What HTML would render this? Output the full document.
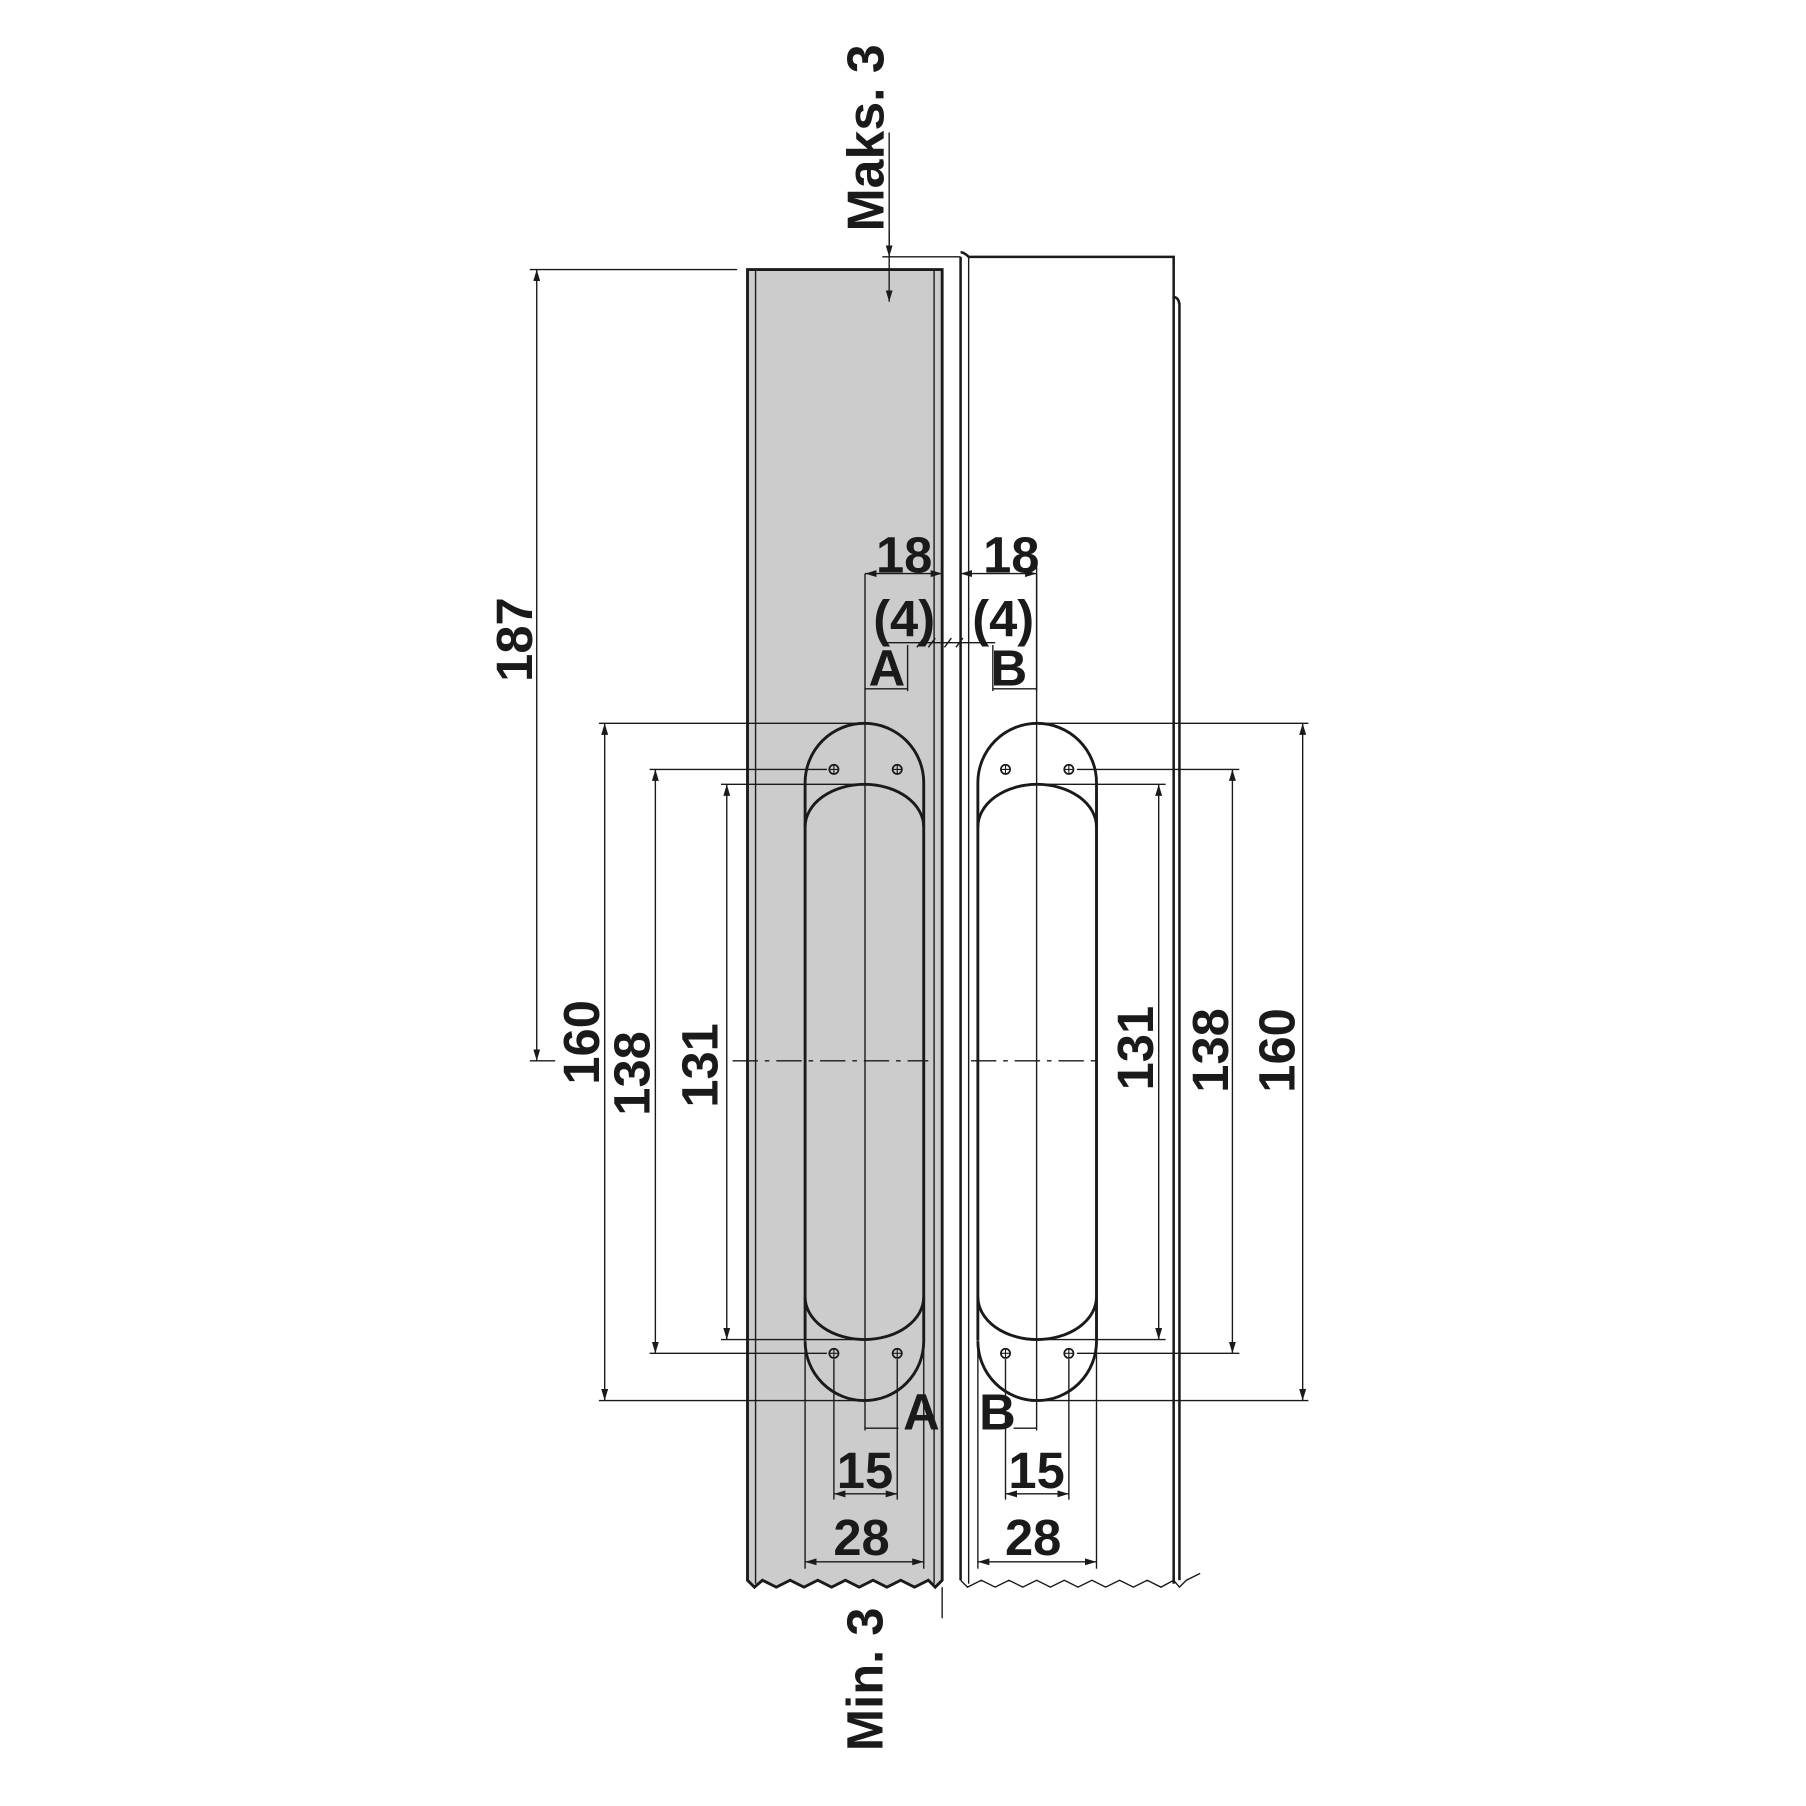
<!DOCTYPE html>
<html><head><meta charset="utf-8"><style>html,body{margin:0;padding:0;background:#fff}svg{display:block}</style></head><body>
<svg width="1806" height="1806" viewBox="0 0 1568 1568" xmlns="http://www.w3.org/2000/svg" font-family="Liberation Sans, sans-serif" font-weight="bold" fill="none" stroke="#1a1a1a">
<defs>
<marker id="ar" viewBox="0 0 10 6" refX="10" refY="3" markerWidth="10" markerHeight="6" orient="auto-start-reverse" markerUnits="userSpaceOnUse"><path d="M0,0 L10,3 L0,6 z" fill="#1a1a1a" stroke="none"/></marker>
</defs>
<path d="M649,234 H818 V1372 L812,1378 L806,1372 L794,1378 L782,1372 L770,1378 L758,1372 L746,1378 L734,1372 L722,1378 L710,1372 L698,1378 L686,1372 L674,1378 L662,1372 L655,1378 L649,1372 Z" fill="#cccccc" stroke="#1a1a1a" stroke-width="2.5"/>
<line x1="656" y1="234" x2="656" y2="1375" stroke-width="1.2"/>
<line x1="811" y1="234" x2="811" y2="1375" stroke-width="1.2"/>
<line x1="818" y1="1378" x2="818" y2="1405" stroke-width="1.2"/>
<path d="M834,1372 V223 M834,219 q3,0 7,4 H1019 V258 q4,0 5,6 V1372" stroke-width="2.2"/>
<line x1="841" y1="223" x2="841" y2="1375" stroke-width="1.2"/>
<line x1="1019" y1="258" x2="1019" y2="1375" stroke-width="2.2"/>
<path d="M834,1372 L840,1378 L852,1372 L864,1378 L876,1372 L888,1378 L900,1372 L912,1378 L924,1372 L936,1378 L948,1372 L960,1378 L972,1372 L984,1378 L996,1372 L1008,1378 L1019,1372 L1024,1378 L1030,1372 L1042,1366" stroke-width="1.2"/>
<line x1="772" y1="115" x2="772" y2="262" stroke-width="1.2" marker-end="url(#ar)"/>
<line x1="772" y1="200" x2="772" y2="223" stroke-width="1.2" marker-end="url(#ar)"/>
<line x1="766" y1="223" x2="834" y2="223" stroke-width="1.2"/>
<text transform="translate(767,201) rotate(-90)" font-size="45" fill="#1a1a1a" stroke="none">Maks. 3</text>
<line x1="460" y1="234" x2="640" y2="234" stroke-width="1.2"/>
<line x1="460" y1="921" x2="482" y2="921" stroke-width="1.2"/>
<line x1="466" y1="234" x2="466" y2="921" stroke-width="1.2" marker-start="url(#ar)" marker-end="url(#ar)"/>
<text transform="translate(462,592) rotate(-90)" font-size="44" fill="#1a1a1a" stroke="none">187</text>
<line x1="636" y1="921" x2="806" y2="921" stroke-width="1.2" stroke-dasharray="22,6,4,6"/>
<line x1="843" y1="921" x2="956" y2="921" stroke-width="1.2" stroke-dasharray="22,6,4,6"/>
<path d="M699,1164 V679.5 A51.5,51.5 0 0 1 802,679.5 V1164.5 A51.5,51.5 0 0 1 699,1164.5" stroke-width="2.5"/>
<path d="M699,718 A51.5,37 0 0 1 802,718 M699,1126 A51.5,37 0 0 0 802,1126" stroke-width="2.5"/>
<line x1="751" y1="498" x2="751" y2="1242" stroke-width="1.2"/>
<path d="M849,1164 V679.5 A51.5,51.5 0 0 1 952,679.5 V1164.5 A51.5,51.5 0 0 1 849,1164.5" stroke-width="2.5"/>
<path d="M849,718 A51.5,37 0 0 1 952,718 M849,1126 A51.5,37 0 0 0 952,1126" stroke-width="2.5"/>
<line x1="900" y1="498" x2="900" y2="1242" stroke-width="1.2"/>
<g stroke-width="1.5">
<circle cx="724" cy="668" r="4"/><circle cx="779" cy="668" r="4"/><circle cx="724" cy="1175" r="4"/><circle cx="779" cy="1175" r="4"/>
<circle cx="873" cy="668" r="4"/><circle cx="928" cy="668" r="4"/><circle cx="873" cy="1175" r="4"/><circle cx="928" cy="1175" r="4"/>
<path d="M720,668h8M724,664v8M775,668h8M779,664v8M720,1175h8M724,1171v8M775,1175h8M779,1171v8M869,668h8M873,664v8M924,668h8M928,664v8M869,1175h8M873,1171v8M924,1175h8M928,1171v8" stroke-width="1"/>
</g>
<g stroke-width="1.2">
<line x1="520" y1="628" x2="751" y2="628"/><line x1="520" y1="1216" x2="751" y2="1216"/>
<line x1="525" y1="628" x2="525" y2="1216" marker-start="url(#ar)" marker-end="url(#ar)"/>
<line x1="564" y1="668" x2="718" y2="668"/><line x1="564" y1="1175" x2="718" y2="1175"/>
<line x1="569" y1="668" x2="569" y2="1175" marker-start="url(#ar)" marker-end="url(#ar)"/>
<line x1="626" y1="681" x2="751" y2="681"/><line x1="626" y1="1163" x2="751" y2="1163"/>
<line x1="631" y1="681" x2="631" y2="1163" marker-start="url(#ar)" marker-end="url(#ar)"/>
<line x1="900" y1="628" x2="1136" y2="628"/><line x1="900" y1="1216" x2="1136" y2="1216"/>
<line x1="1131" y1="628" x2="1131" y2="1216" marker-start="url(#ar)" marker-end="url(#ar)"/>
<line x1="935" y1="668" x2="1076" y2="668"/><line x1="935" y1="1175" x2="1076" y2="1175"/>
<line x1="1070" y1="668" x2="1070" y2="1175" marker-start="url(#ar)" marker-end="url(#ar)"/>
<line x1="900" y1="681" x2="1012" y2="681"/><line x1="900" y1="1163" x2="1012" y2="1163"/>
<line x1="1006" y1="681" x2="1006" y2="1163" marker-start="url(#ar)" marker-end="url(#ar)"/>
<line x1="751" y1="498" x2="818" y2="498" marker-start="url(#ar)" marker-end="url(#ar)"/>
<line x1="818" y1="498" x2="818" y2="510"/>
<line x1="834" y1="498" x2="900" y2="498" marker-start="url(#ar)" marker-end="url(#ar)"/>
<line x1="900" y1="490" x2="900" y2="600"/>
<line x1="770" y1="558" x2="864" y2="558"/>
<path d="M796,562l6,-8M806,562l6,-8M820,562l6,-8M830,562l6,-8"/>
<line x1="788" y1="560" x2="788" y2="600"/>
<line x1="862" y1="560" x2="862" y2="600"/>
<line x1="751" y1="598" x2="788" y2="598"/>
<line x1="862" y1="598" x2="900" y2="598"/>
<line x1="724" y1="1180" x2="724" y2="1302"/><line x1="779" y1="1180" x2="779" y2="1302"/>
<line x1="873" y1="1180" x2="873" y2="1302"/><line x1="928" y1="1180" x2="928" y2="1302"/>
<line x1="699" y1="1164" x2="699" y2="1362"/><line x1="802" y1="1164" x2="802" y2="1362"/>
<line x1="849" y1="1164" x2="849" y2="1362"/><line x1="952" y1="1164" x2="952" y2="1362"/>
<line x1="724" y1="1297" x2="779" y2="1297" marker-start="url(#ar)" marker-end="url(#ar)"/>
<line x1="873" y1="1297" x2="928" y2="1297" marker-start="url(#ar)" marker-end="url(#ar)"/>
<line x1="699" y1="1356" x2="802" y2="1356" marker-start="url(#ar)" marker-end="url(#ar)"/>
<line x1="849" y1="1356" x2="952" y2="1356" marker-start="url(#ar)" marker-end="url(#ar)"/>
<line x1="751" y1="1240" x2="780" y2="1240"/><line x1="880" y1="1240" x2="900" y2="1240"/>
</g>
<g fill="#1a1a1a" stroke="none" font-size="44" text-anchor="middle">
<text x="785" y="497">18</text><text x="878" y="497">18</text>
<text x="785" y="552">(4)</text><text x="871" y="552">(4)</text>
<text x="770" y="595">A</text><text x="876" y="595">B</text>
<text x="800" y="1241">A</text><text x="866" y="1241">B</text>
<text x="751" y="1292">15</text><text x="900" y="1292">15</text>
<text x="748" y="1350">28</text><text x="897" y="1350">28</text>
<text transform="translate(520,905) rotate(-90)">160</text>
<text transform="translate(564,932) rotate(-90)">138</text>
<text transform="translate(623,925) rotate(-90)">131</text>
<text transform="translate(1001,910) rotate(-90)">131</text>
<text transform="translate(1066,912) rotate(-90)">138</text>
<text transform="translate(1124,912) rotate(-90)">160</text>
<text transform="translate(766,1458) rotate(-90)">Min. 3</text>
</g>
</svg>
</body></html>
